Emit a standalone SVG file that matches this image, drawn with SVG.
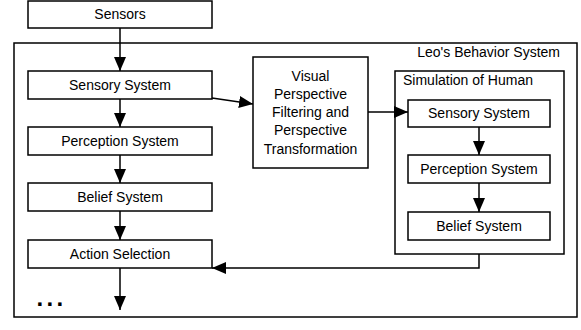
<svg xmlns="http://www.w3.org/2000/svg" width="581" height="330" viewBox="0 0 581 330">
<defs>
<style>
.box{fill:#fff;stroke:#000;stroke-width:1.5}
.frame{fill:none;stroke:#000;stroke-width:1.5}
.t{font-family:"Liberation Sans",Arial,sans-serif;font-size:14px;fill:#000;text-anchor:middle}
.tl{font-family:"Liberation Sans",Arial,sans-serif;font-size:14px;fill:#000}
.c{fill:none;stroke:#000;stroke-width:1.5}
</style>
<marker id="ah" markerWidth="14" markerHeight="12" refX="14" refY="6" orient="auto" markerUnits="userSpaceOnUse">
<path d="M0,0 L14,6 L0,12 Z" fill="#000"/>
</marker>
</defs>
<rect width="581" height="330" fill="#fff"/>
<g id="leo-behavior-system">
<rect class="frame" x="14" y="43" width="563" height="274"/>
<text class="tl" x="560" y="57" text-anchor="end">Leo's Behavior System</text>
</g>
<g id="simulation-of-human">
<rect class="frame" x="395" y="71" width="169" height="183"/>
<text class="tl" x="403" y="85">Simulation of Human</text>
</g>
<g id="connectors">
<line class="c" x1="120" y1="28" x2="120" y2="71" marker-end="url(#ah)"/>
<line class="c" x1="120" y1="99" x2="120" y2="127" marker-end="url(#ah)"/>
<line class="c" x1="120" y1="155" x2="120" y2="183" marker-end="url(#ah)"/>
<line class="c" x1="120" y1="211" x2="120" y2="240" marker-end="url(#ah)"/>
<line class="c" x1="120" y1="268" x2="120" y2="310" marker-end="url(#ah)"/>
<line class="c" x1="212" y1="98" x2="253" y2="104" marker-end="url(#ah)"/>
<line class="c" x1="368" y1="112" x2="408" y2="112" marker-end="url(#ah)"/>
<line class="c" x1="479" y1="127" x2="479" y2="155" marker-end="url(#ah)"/>
<line class="c" x1="479" y1="183" x2="479" y2="212" marker-end="url(#ah)"/>
<polyline class="c" points="479,254 479,268 212,268" marker-end="url(#ah)"/>
</g>
<g id="sensors">
<rect class="box" x="28" y="1" width="184" height="27"/>
<text class="t" x="120" y="19">Sensors</text>
</g>
<g id="sensory-system">
<rect class="box" x="28" y="71" width="184" height="28"/>
<text class="t" x="120" y="89.5">Sensory System</text>
</g>
<g id="perception-system">
<rect class="box" x="28" y="127" width="184" height="28"/>
<text class="t" x="120" y="145.5">Perception System</text>
</g>
<g id="belief-system">
<rect class="box" x="28" y="183" width="184" height="28"/>
<text class="t" x="120" y="201.5">Belief System</text>
</g>
<g id="action-selection">
<rect class="box" x="28" y="240" width="184" height="28"/>
<text class="t" x="120" y="258.5">Action Selection</text>
</g>
<g id="ellipsis">
<text x="36.5" y="305.5" font-family="Liberation Sans, Arial, sans-serif" font-size="24" font-weight="bold" letter-spacing="3.3">...</text>
</g>
<g id="visual-perspective">
<rect class="box" x="253" y="57" width="115" height="111"/>
<text class="t" x="310.5" y="80.5">Visual</text>
<text class="t" x="310.5" y="98.8">Perspective</text>
<text class="t" x="310.5" y="117">Filtering and</text>
<text class="t" x="310.5" y="135.3">Perspective</text>
<text class="t" x="310.5" y="153.5">Transformation</text>
</g>
<g id="sim-sensory-system">
<rect class="box" x="408" y="100" width="142" height="27"/>
<text class="t" x="479" y="118">Sensory System</text>
</g>
<g id="sim-perception-system">
<rect class="box" x="408" y="155" width="142" height="28"/>
<text class="t" x="479" y="173.5">Perception System</text>
</g>
<g id="sim-belief-system">
<rect class="box" x="408" y="212" width="142" height="28"/>
<text class="t" x="479" y="230.5">Belief System</text>
</g>
</svg>
